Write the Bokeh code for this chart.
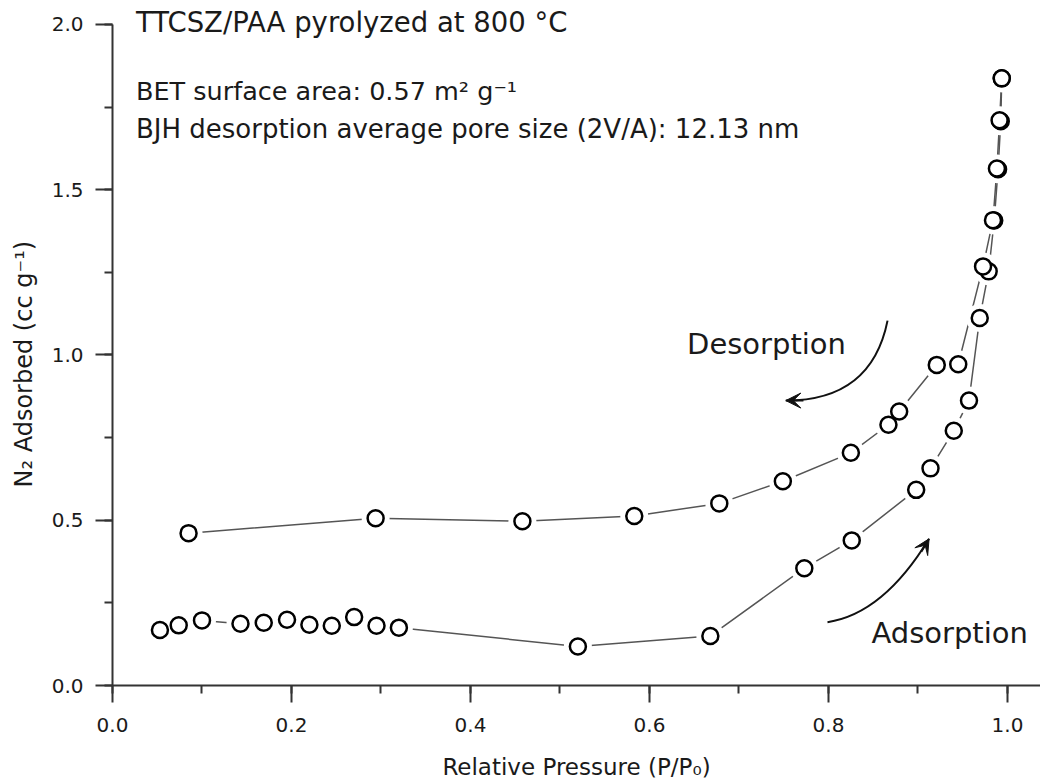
from bokeh.plotting import figure
from bokeh.models import (SingleIntervalTicker, PrintfTickFormatter, Label, Arrow, VeeHead,
                          ColumnDataSource, Title)
from bokeh.embed import file_html
from bokeh.resources import INLINE

# ---------------- data ----------------
ads_x = [0.053, 0.074, 0.100, 0.143, 0.169, 0.195, 0.220, 0.245, 0.270, 0.295, 0.320,
         0.520, 0.668, 0.773, 0.826, 0.898, 0.914, 0.940, 0.957, 0.969, 0.979,
         0.9852, 0.9895, 0.9925, 0.9936]
ads_y = [0.168, 0.182, 0.197, 0.187, 0.190, 0.199, 0.184, 0.181, 0.207, 0.181, 0.175,
         0.118, 0.150, 0.355, 0.439, 0.592, 0.657, 0.771, 0.862, 1.112, 1.253,
         1.407, 1.562, 1.707, 1.837]

des_x = [0.9936, 0.9912, 0.9882, 0.9838, 0.9727, 0.945, 0.921, 0.879, 0.867, 0.825,
         0.749, 0.678, 0.583, 0.458, 0.294, 0.085]
des_y = [1.837, 1.710, 1.564, 1.408, 1.268, 0.972, 0.970, 0.829, 0.789, 0.704,
         0.618, 0.551, 0.513, 0.497, 0.506, 0.461]

x_ticks_interval = 0.2
y_ticks_interval = 0.5
y_axis_bounds = (0, 2.0)

title_lines = ["TTCSZ/PAA pyrolyzed at 800 \u00b0C",
               "BET surface area: 0.57 m\u00b2 g\u207b\u00b9",
               "BJH desorption average pore size (2V/A): 12.13 nm"]
x_label = "Relative Pressure (P/P\u2080)"
y_label = "N\u2082 Adsorbed (cc g\u207b\u00b9)"

FONT = "DejaVu Sans"
TXT = "#1a1a1a"

p = figure(width=1040, height=782, x_range=(0, 1.0369), y_range=(0, 2.0423),
           output_backend="svg", toolbar_location=None,
           min_border_left=112, min_border_right=0, min_border_top=10, min_border_bottom=97)
p.outline_line_color = None
p.grid.visible = False
p.background_fill_color = "white"
p.border_fill_color = "white"

for ax, interval in ((p.xaxis[0], x_ticks_interval), (p.yaxis[0], y_ticks_interval)):
    ax.ticker = SingleIntervalTicker(interval=interval, num_minor_ticks=2)
    ax.formatter = PrintfTickFormatter(format="%.1f")
    ax.axis_line_width = 2
    ax.axis_line_color = "#333333"
    ax.major_tick_line_width = 2
    ax.major_tick_line_color = "#333333"
    ax.minor_tick_line_width = 2
    ax.minor_tick_line_color = "#333333"
    ax.major_tick_in = 0
    ax.major_tick_out = 17
    ax.minor_tick_in = 0
    ax.minor_tick_out = 8
    ax.major_label_text_font = FONT
    ax.major_label_text_font_size = "20px"
    ax.major_label_text_color = TXT
    ax.axis_label_text_font = FONT
    ax.axis_label_text_font_style = "normal"
    ax.axis_label_text_color = TXT

p.yaxis.bounds = y_axis_bounds
p.xaxis.axis_label = x_label
p.xaxis.axis_label_text_font_size = "23px"
p.xaxis.major_label_standoff = 15
p.yaxis.major_label_standoff = 12
p.xaxis.axis_label_standoff = 19

# y axis title as a side title, so it can sit where the reference has it
p.add_layout(Title(text=y_label, align="left", offset=198, vertical_align="top",
                   standoff=17, text_font=FONT, text_font_size="24px",
                   text_font_style="normal", text_color=TXT), "left")

ads = ColumnDataSource(dict(x=ads_x, y=ads_y))
des = ColumnDataSource(dict(x=des_x, y=des_y))

for src in (ads, des):
    p.line("x", "y", source=src, line_color="#555555", line_width=1.5)
for src in (ads, des):
    p.scatter("x", "y", source=src, size=28, marker="circle", fill_color="white",
              line_color=None)
for src in (ads, des):
    p.scatter("x", "y", source=src, size=16, marker="circle", fill_color="white",
              line_color="black", line_width=2.5)

# curved arrows (annotation geometry, data units)
DES_ARROW = dict(x0=0.866, y0=1.104, cx=0.848, cy=0.862, x1=0.7523, y1=0.8621)
ADS_ARROW = dict(x0=0.7989, y0=0.1915, cx=0.8612, cy=0.2166, x1=0.9124, y1=0.4437)
for a in (DES_ARROW, ADS_ARROW):
    p.quadratic(x0=[a["x0"]], y0=[a["y0"]], x1=[a["x1"]], y1=[a["y1"]],
                cx=[a["cx"]], cy=[a["cy"]], line_color="#111111", line_width=2)

p.add_layout(Arrow(end=VeeHead(size=15, fill_color="#111111", line_color="#111111", line_width=1),
                   x_start=0.772, y_start=0.8621, x_end=0.7523, y_end=0.8621,
                   line_color="#111111", line_width=2))
p.add_layout(Arrow(end=VeeHead(size=15, fill_color="#111111", line_color="#111111", line_width=1),
                   x_start=0.9037, y_start=0.405, x_end=0.9124, y_end=0.4437,
                   line_color="#111111", line_width=2))

# texts
for txt, ty, fs in zip(title_lines, (2.008, 1.799, 1.684), ("27.5px", "25.5px", "26px")):
    p.add_layout(Label(x=0.0262, y=ty, text=txt, text_font=FONT, text_font_size=fs,
                       text_color=TXT, text_baseline="alphabetic", text_align="left"))

p.add_layout(Label(x=0.642, y=1.032, text="Desorption", text_font=FONT, text_font_size="29px",
                   text_color=TXT, text_baseline="alphabetic"))
p.add_layout(Label(x=0.848, y=0.159, text="Adsorption", text_font=FONT, text_font_size="29px",
                   text_color=TXT, text_baseline="alphabetic"))

open("out.html", "w").write(file_html(p, INLINE))
